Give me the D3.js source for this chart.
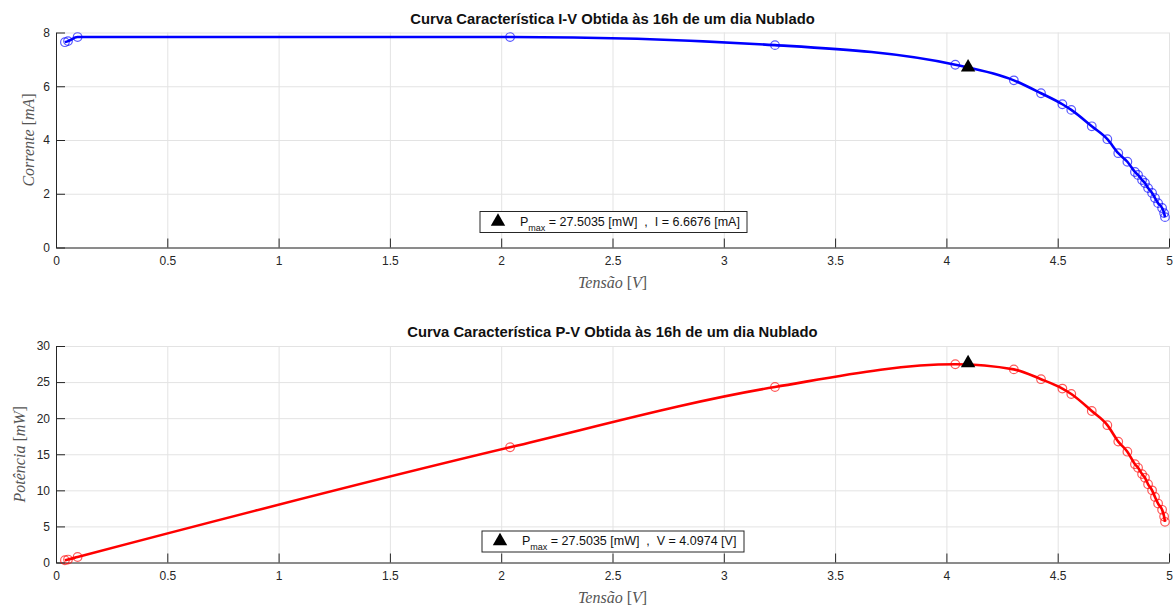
<!DOCTYPE html>
<html>
<head>
<meta charset="UTF-8">
<script src="https://d3js.org/d3.v7.min.js"></script>
<style>
  body { margin: 0; background: #fff; }
  svg { display: block; }
  .tick text { font: 12px "Liberation Sans", Arial, sans-serif; fill: #262626; }
  .axis path, .axis line { stroke: #262626; }
  .grid line { stroke: #e3e3e3; }
  .grid path { display: none; }
  .title { font: bold 14.8px "Liberation Sans", Arial, sans-serif; fill: #111; }
  .label { font: italic 16px "Liberation Serif", "DejaVu Serif", serif; fill: #555; }
  .leg { font: 12.5px "Liberation Sans", Arial, sans-serif; fill: #111; white-space: pre; }
</style>
</head>
<body>
<svg id="chart" width="1176" height="606"></svg>
<script>
var tensao = [0.040, 0.054, 0.097, 2.04, 3.23, 4.04, 4.303, 4.425, 4.521, 4.561, 4.653, 4.723, 4.772, 4.813,
              4.847, 4.861, 4.879, 4.892, 4.906, 4.924, 4.937, 4.951, 4.969, 4.978, 4.982];
var corrente = [7.64, 7.68, 7.83, 7.83, 7.53, 6.80, 6.22, 5.74, 5.33, 5.12, 4.51, 4.03, 3.51, 3.19,
                2.81, 2.70, 2.51, 2.40, 2.21, 2.03, 1.84, 1.65, 1.47, 1.28, 1.13];
var potencia = [0.31, 0.41, 0.76, 15.97, 24.32, 27.47, 26.76, 25.40, 24.10, 23.35, 20.99, 19.03, 16.75, 15.35,
                13.62, 13.12, 12.25, 11.74, 10.84, 10.00, 9.08, 8.17, 7.30, 6.37, 5.63];
var vMax = 4.0974, iMax = 6.6676, pMax = 27.5035;
var xTicks = [0, 0.5, 1, 1.5, 2, 2.5, 3, 3.5, 4, 4.5, 5];
var iTicks = [0, 2, 4, 6, 8];
var pTicks = [0, 5, 10, 15, 20, 25, 30];

var svg = d3.select("#chart");
var X0 = 56, X1 = 1169;

function painel(cfg) {
  var x = d3.scaleLinear().domain([0, 5]).range([X0, X1]);
  var y = d3.scaleLinear().domain(cfg.yDom).range([cfg.bottom, cfg.top]);

  // grade
  svg.append("g").attr("class", "grid")
    .attr("transform", "translate(0," + cfg.bottom + ")")
    .call(d3.axisBottom(x).tickValues(xTicks).tickSize(-(cfg.bottom - cfg.top)).tickFormat(""));
  svg.append("g").attr("class", "grid")
    .attr("transform", "translate(" + X0 + ",0)")
    .call(d3.axisLeft(y).tickValues(cfg.yTicks).tickSize(-(X1 - X0)).tickFormat(""));

  // eixos
  svg.append("g").attr("class", "axis")
    .attr("transform", "translate(0," + cfg.bottom + ")")
    .call(d3.axisBottom(x).tickValues(xTicks).tickSizeInner(-9).tickSizeOuter(0).tickPadding(9).tickFormat(d3.format("")));
  svg.append("g").attr("class", "axis")
    .attr("transform", "translate(" + X0 + ",0)")
    .call(d3.axisLeft(y).tickValues(cfg.yTicks).tickSizeInner(-9).tickSizeOuter(0).tickPadding(6));

  var pts = tensao.map(function(v, i) { return [v, cfg.yData[i]]; });
  var linha = d3.line()
    .x(function(d) { return x(d[0]); })
    .y(function(d) { return y(d[1]); })
    .curve(d3.curveMonotoneX);

  svg.append("path").datum(pts)
    .attr("d", linha)
    .attr("fill", "none")
    .attr("stroke", cfg.cor)
    .attr("stroke-width", 2.6);

  svg.append("g").selectAll("circle").data(pts).enter().append("circle")
    .attr("cx", function(d) { return x(d[0]); })
    .attr("cy", function(d) { return y(d[1]); })
    .attr("r", 4.3)
    .attr("fill", "none")
    .attr("stroke", cfg.cor)
    .attr("stroke-opacity", 0.65)
    .attr("stroke-width", 1.2);

  svg.append("path")
    .attr("d", d3.symbol().type(d3.symbolTriangle).size(90))
    .attr("transform", "translate(" + x(vMax) + "," + (y(cfg.yMax) - 1) + ")")
    .attr("fill", "#000");

  // titulo
  svg.append("text").attr("class", "title")
    .attr("x", (X0 + X1) / 2).attr("y", cfg.top - 9)
    .attr("text-anchor", "middle")
    .text(cfg.titulo);

  // rotulos
  var xl = svg.append("text").attr("class", "label")
    .attr("x", (X0 + X1) / 2).attr("y", cfg.bottom + 40)
    .attr("text-anchor", "middle");
  xl.append("tspan").text("Tensão ");
  xl.append("tspan").attr("font-style", "normal").text("[");
  xl.append("tspan").text("V");
  xl.append("tspan").attr("font-style", "normal").text("]");

  var yl = svg.append("text").attr("class", "label")
    .attr("transform", "translate(" + cfg.ylx + "," + ((cfg.top + cfg.bottom) / 2) + ") rotate(-90)")
    .attr("text-anchor", "middle");
  yl.append("tspan").text(cfg.yNome + " ");
  yl.append("tspan").attr("font-style", "normal").text("[");
  yl.append("tspan").text(cfg.yUnid);
  yl.append("tspan").attr("font-style", "normal").text("]");

  // legenda
  var lg = svg.append("g").attr("transform", "translate(" + cfg.legX + "," + cfg.legY + ")");
  lg.append("rect").attr("width", cfg.legW).attr("height", 21)
    .attr("fill", "#fff").attr("stroke", "#262626").attr("stroke-width", 1);
  lg.append("path")
    .attr("d", d3.symbol().type(d3.symbolTriangle).size(90))
    .attr("transform", "translate(18,10)")
    .attr("fill", "#000");
  var lt = lg.append("text").attr("class", "leg").attr("x", 40).attr("y", 14);
  lt.append("tspan").text("P");
  lt.append("tspan").attr("font-size", "9px").attr("dy", 5).text("max");
  lt.append("tspan").attr("dy", -5).text(" = " + pMax + " [mW]  ,  " + cfg.legTxt);
}

painel({
  top: 32.5, bottom: 247.5, yDom: [0, 8], yTicks: iTicks, yData: corrente, yMax: iMax,
  cor: "#0000ff", titulo: "Curva Característica I-V Obtida às 16h de um dia Nublado",
  yNome: "Corrente", yUnid: "mA", ylx: 34,
  legX: 480, legY: 211.5, legW: 267, legTxt: "I = " + iMax + " [mA]"
});

painel({
  top: 346, bottom: 562.5, yDom: [0, 30], yTicks: pTicks, yData: potencia, yMax: pMax,
  cor: "#ff0000", titulo: "Curva Característica P-V Obtida às 16h de um dia Nublado",
  yNome: "Potência", yUnid: "mW", ylx: 25,
  legX: 482, legY: 531, legW: 262, legTxt: "V = " + vMax + " [V]"
});
</script>
</body>
</html>
